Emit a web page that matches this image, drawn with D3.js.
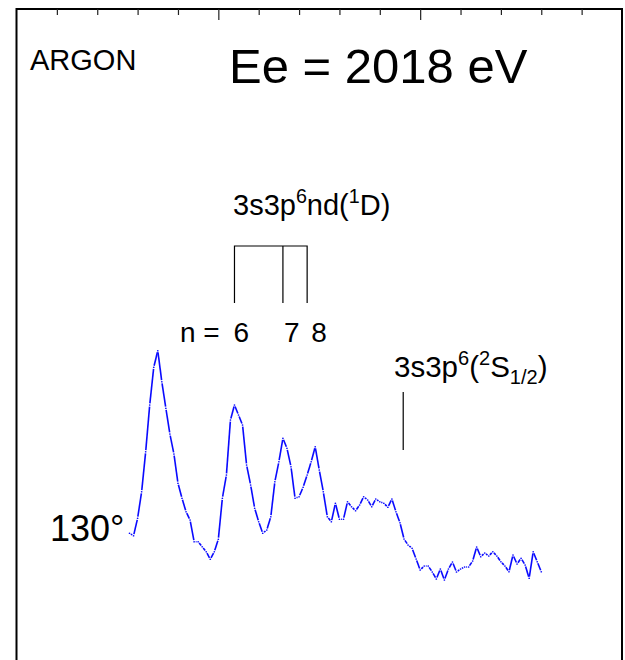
<!DOCTYPE html>
<html>
<head>
<meta charset="utf-8">
<script src="https://cdn.jsdelivr.net/npm/d3@7"></script>
<style>
  body { margin: 0; background: #fff; }
  svg { display: block; }
  text { font-family: "Liberation Sans", Arial, sans-serif; fill: #000; }
</style>
</head>
<body>
<div id="chart"></div>
<script>
const width = 625,
      height = 660;

// energy grid (axis units, one tick per unit) and measured intensity
const xStart = 2.8,
      xStep = 0.1;
const intensity = [
  22.7, 21.7,
  28.7, 39.3, 55.3, 74.0, 89.1, 95.7, 83.3, 72.7, 62.4, 54.4,
  42.7, 36.7, 31.3, 28.0, 19.3, 19.3, 17.3, 15.3, 12.3, 15.3,
  20.3, 36.7, 46.0, 68.0, 74.0, 70.0, 66.0, 50.0, 42.0, 32.7,
  27.3, 22.7, 24.0, 29.3, 43.3, 51.3, 60.7, 56.7, 49.3, 36.7,
  37.3, 41.1, 46.0, 51.3, 57.3, 48.0, 39.3, 29.3, 27.3, 34.7,
  28.3, 28.3, 35.3, 33.3, 31.7, 34.0, 37.3, 36.0, 33.3, 36.4,
  35.3, 34.7, 33.1, 36.4, 31.3, 26.9, 20.4, 18.0, 16.7, 12.4,
  8.0, 9.6, 9.6, 7.2, 4.4, 8.4, 4.0, 8.4, 11.2, 7.2,
  8.4, 9.2, 9.2, 11.6, 17.2, 13.3, 14.8, 13.6, 15.3, 13.6,
  11.3, 9.6, 7.3, 14.0, 10.4, 12.7, 10.0, 4.7, 15.3, 11.3,
  7.3
];

const minorTicks = [1, 2, 3, 4, 6, 7, 8, 9, 11, 12, 13, 14],
      majorTicks = [5, 10];

// 3s3p6nd(1D) series limits and the 3s3p6(2S1/2) threshold
const rydbergN = [6, 7, 8],
      rydbergX = [5.4, 6.6, 7.2],
      thresholdX = 9.58;

const data = intensity.map(function(v, i) {
  return { x: xStart + i * xStep, y: v };
});

const x = d3.scaleLinear().domain([0, 15]).range([16.5, 622]),
      y = d3.scaleLinear().domain([0, 100]).range([590, 340]);

const svg = d3.select("#chart").append("svg")
    .attr("width", width)
    .attr("height", height);

// open frame (left, top, right)
svg.append("path")
    .attr("d", `M${x.range()[0]},${height + 5}V9H${x.range()[1]}V${height + 5}`)
    .attr("fill", "none")
    .attr("stroke", "#000")
    .attr("stroke-width", 2);

const topY = 9;
svg.append("g")
    .attr("transform", `translate(0,${topY})`)
    .call(d3.axisBottom(x).tickValues(minorTicks).tickSize(6).tickFormat(""))
    .call(function(g) { g.select(".domain").remove(); })
    .selectAll("line").attr("stroke", "#222").attr("stroke-width", 1.2);

svg.append("g")
    .attr("transform", `translate(0,${topY})`)
    .call(d3.axisBottom(x).tickValues(majorTicks).tickSize(11).tickFormat(""))
    .call(function(g) { g.select(".domain").remove(); })
    .selectAll("line").attr("stroke", "#222").attr("stroke-width", 1.2);

// titles
svg.append("text")
    .attr("x", 30)
    .attr("y", 70)
    .attr("font-size", 29)
    .text("ARGON");

svg.append("text")
    .attr("x", 229)
    .attr("y", 83)
    .attr("font-size", 49)
    .text("Ee = 2018 eV");

svg.append("text")
    .attr("x", 50)
    .attr("y", 541)
    .attr("font-size", 36)
    .text("130°");

// spectrum: dash-dot style, each segment trimmed with a dot at every vertex
const blue = "#0a0aff",
      gap = 1.6;
const segs = d3.pairs(data).map(function(p) {
  const x1 = x(p[0].x), y1 = y(p[0].y), x2 = x(p[1].x), y2 = y(p[1].y);
  const len = Math.hypot(x2 - x1, y2 - y1),
        ux = (x2 - x1) / len, uy = (y2 - y1) / len;
  return { x1: x1 + ux * gap, y1: y1 + uy * gap, x2: x2 - ux * gap, y2: y2 - uy * gap };
});

const spectrum = svg.append("g");
spectrum.selectAll("line")
    .data(segs)
    .join("line")
    .attr("x1", function(d) { return d.x1; })
    .attr("y1", function(d) { return d.y1; })
    .attr("x2", function(d) { return d.x2; })
    .attr("y2", function(d) { return d.y2; })
    .attr("stroke", blue)
    .attr("stroke-width", 1.6);

spectrum.selectAll("circle")
    .data(data)
    .join("circle")
    .attr("cx", function(d) { return x(d.x); })
    .attr("cy", function(d) { return y(d.y); })
    .attr("r", 0.85)
    .attr("fill", blue);

// Rydberg series bracket
const brTop = 246,
      brBottom = 303;
svg.append("path")
    .attr("d", `M${x(rydbergX[0])},${brBottom}V${brTop}H${x(rydbergX[2])}V${brBottom}`
             + `M${x(rydbergX[1])},${brTop}V${brBottom}`)
    .attr("fill", "none")
    .attr("stroke", "#000")
    .attr("stroke-width", 1.2);

const series = svg.append("text")
    .attr("x", 233)
    .attr("y", 215)
    .attr("font-size", 29);
series.append("tspan").text("3s3p");
series.append("tspan").attr("font-size", "0.68em").attr("dy", "-0.6em").text("6");
series.append("tspan").attr("dy", "0.41em").text("nd(");
series.append("tspan").attr("font-size", "0.68em").attr("dy", "-0.6em").text("1");
series.append("tspan").attr("dy", "0.41em").text("D)");

svg.append("text")
    .attr("x", 180)
    .attr("y", 342)
    .attr("font-size", 28)
    .text("n =");

const labelDx = [-1, 1, 4];
svg.append("g")
    .selectAll("text")
    .data(rydbergN)
    .join("text")
    .attr("x", function(d, i) { return x(rydbergX[i]) + labelDx[i]; })
    .attr("y", 342)
    .attr("font-size", 28)
    .text(function(d) { return d; });

// ionisation threshold
svg.append("line")
    .attr("x1", x(thresholdX))
    .attr("x2", x(thresholdX))
    .attr("y1", 392)
    .attr("y2", 450)
    .attr("stroke", "#000")
    .attr("stroke-width", 1.2);

const thr = svg.append("text")
    .attr("x", 394)
    .attr("y", 377)
    .attr("font-size", 29.5);
thr.append("tspan").text("3s3p");
thr.append("tspan").attr("font-size", "0.68em").attr("dy", "-0.6em").text("6");
thr.append("tspan").attr("dy", "0.41em").text("(");
thr.append("tspan").attr("font-size", "0.68em").attr("dy", "-0.6em").text("2");
thr.append("tspan").attr("dy", "0.41em").text("S");
thr.append("tspan").attr("font-size", "0.68em").attr("dy", "0.35em").text("1/2");
thr.append("tspan").attr("dy", "-0.24em").text(")");
</script>
</body>
</html>
